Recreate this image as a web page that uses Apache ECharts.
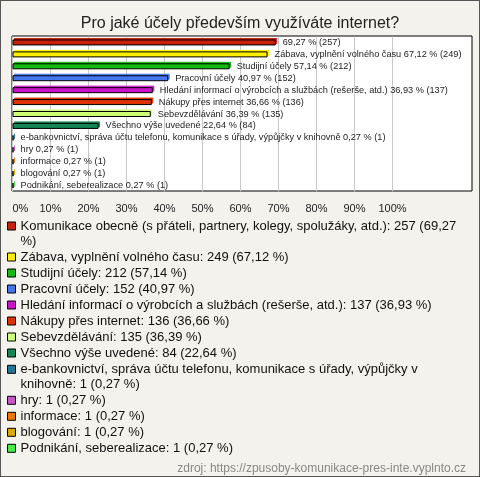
<!DOCTYPE html>
<html>
<head>
<meta charset="utf-8">
<script src="https://cdn.jsdelivr.net/npm/echarts@6/dist/echarts.min.js"></script>
<style>
html,body{margin:0;padding:0;background:#f3f2ec;}
#c{width:478px;height:475px;border:1px solid #555;background:#f3f2ec;}
</style>
</head>
<body>
<div id="c"></div>
<script>
// ---- data ----
const names = [
  'Komunikace obecně (s přáteli, partnery, kolegy, spolužáky, atd.)',
  'Zábava, vyplnění volného času',
  'Studijní účely',
  'Pracovní účely',
  'Hledání informací o výrobcích a službách (rešerše, atd.)',
  'Nákupy přes internet',
  'Sebevzdělávání',
  'Všechno výše uvedené',
  'e-bankovnictví, správa účtu telefonu, komunikace s úřady, výpůjčky v knihovně',
  'hry',
  'informace',
  'blogování',
  'Podnikání, seberealizace'
];
const barLabelNames = [
  '',
  'Zábava, vyplnění volného času',
  'Studijní účely',
  'Pracovní účely',
  'Hledání informací o výrobcích a službách (rešerše, atd.)',
  'Nákupy přes internet',
  'Sebevzdělávání',
  'Všechno výše uvedené',
  'e-bankovnictví, správa účtu telefonu, komunikace s úřady, výpůjčky v knihovně',
  'hry',
  'informace',
  'blogování',
  'Podnikání, seberealizace'
];
const counts = [257, 249, 212, 152, 137, 136, 135, 84, 1, 1, 1, 1, 1];
const percents = [69.27, 67.12, 57.14, 40.97, 36.93, 36.66, 36.39, 22.64, 0.27, 0.27, 0.27, 0.27, 0.27];
const titleText = 'Pro jaké účely především využíváte internet?';
const sourceText = 'zdroj: https://zpusoby-komunikace-pres-inte.vyplnto.cz';

// ---- styles ----
const colors = ['#c8200c', '#ffee00', '#11bb11', '#4477ee', '#cc11cc', '#dd3300', '#ccff77',
  '#118855', '#227799', '#cc55cc', '#ee7700', '#ddaa00', '#44ee44'];
const FONT = '"Liberation Sans", Arial, sans-serif';

const fmt = v => v.toFixed(2).replace('.', ',');
const legendText = i => names[i] + ': ' + counts[i] + ' (' + fmt(percents[i]) + ' %)';

const LEG_W = 446;
const cv = document.createElement('canvas').getContext('2d');
cv.font = '13px "Liberation Sans"';
function wrap(t) {
  const words = t.split(' ');
  const lines = [];
  let cur = '';
  words.forEach(w => {
    const cand = cur ? cur + ' ' + w : w;
    if (cur && cv.measureText(cand).width > LEG_W) { lines.push(cur); cur = w; }
    else cur = cand;
  });
  lines.push(cur);
  return lines.length > 1 ? '\n' + lines.join('\n') : lines[0];
}
const legendFormatter = name => wrap(legendText(names.indexOf(name)));

const cats = names.map((n, i) => String(i));

const series = names.map((n, i) => ({
  type: 'bar',
  name: n,
  xAxisIndex: 1,
  yAxisIndex: 1,
  barWidth: 6,
  barGap: '-100%',
  data: cats.map((c, j) => j === i ? percents[i] : '-'),
  itemStyle: {
    color: colors[i],
    borderColor: '#000',
    borderWidth: 1,
    shadowColor: colors[i],
    shadowOffsetX: 1.5,
    shadowOffsetY: -1.5,
    shadowBlur: 0
  },
  label: {
    show: true,
    position: 'right',
    distance: 7,
    color: '#222',
    fontFamily: FONT,
    fontSize: 9.2,
    formatter: () => (barLabelNames[i] ? barLabelNames[i] + ' ' : '') + fmt(percents[i]) + ' % (' + counts[i] + ')'
  },
  emphasis: { disabled: true },
  animation: false
}));

const legendCommon = {
  orient: 'vertical',
  left: 6,
  padding: 0,
  itemGap: 1,
  itemWidth: 8,
  itemHeight: 8,
  icon: 'rect',
  selectedMode: false,
  itemStyle: { borderColor: '#000', borderWidth: 1, shadowBlur: 0, shadowOffsetX: 0, shadowOffsetY: 0, shadowColor: 'transparent' },
  textStyle: { fontFamily: FONT, fontSize: 13, color: '#111', lineHeight: 15 },
  formatter: legendFormatter
};

const chart = echarts.init(document.getElementById('c'), null, { renderer: 'canvas' });
chart.setOption({
  animation: false,
  backgroundColor: '#f3f2ec',
  title: [
    { text: titleText, left: 'center', top: 10, textStyle: { fontFamily: FONT, fontSize: 16, fontWeight: 'normal', color: '#222' } },
    { text: sourceText, right: 8, top: 457, textStyle: { fontFamily: FONT, fontSize: 12, fontWeight: 'normal', color: '#888' } }
  ],
  legend: [
    Object.assign({}, legendCommon, { top: 202.5, data: names.slice(0, 8) }),
    Object.assign({}, legendCommon, { top: 345.8, data: names.slice(8) })
  ],
  grid: [
    { left: 11, top: 35, width: 460, height: 155, show: true, backgroundColor: '#fff', borderColor: '#000', borderWidth: 1, z: -1 },
    { left: 11.5, top: 35.5, width: 380, height: 155 }
  ],
  xAxis: [
    { gridIndex: 0, type: 'value', min: 0, max: 1, show: false },
    {
      gridIndex: 1, type: 'value', min: 0, max: 100, interval: 10,
      axisLine: { show: false }, axisTick: { show: false },
      splitLine: { show: true, lineStyle: { color: '#c8c8c8', width: 1 } },
      axisLabel: { formatter: '{value}%', margin: 12, fontFamily: FONT, fontSize: 11, color: '#222', alignMinLabel: 'left' }
    }
  ],
  yAxis: [
    { gridIndex: 0, type: 'value', min: 0, max: 1, show: false },
    { gridIndex: 1, type: 'category', data: cats, inverse: true, show: false }
  ],
  series: series
});
</script>
</body>
</html>
